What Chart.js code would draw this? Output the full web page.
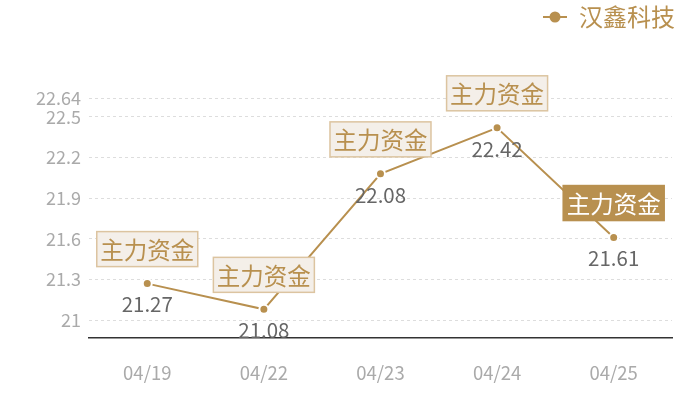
<!DOCTYPE html>
<html>
<head>
<meta charset="utf-8">
<script src="https://cdn.jsdelivr.net/npm/chart.js@4.4.1/dist/chart.umd.min.js"></script>
<style>
    html, body { margin: 0; padding: 0; background: #fff; }
    #wrap { width: 700px; height: 400px; }
</style>
</head>
<body>
<div id="wrap"><canvas id="priceChart" width="700" height="400"></canvas></div>
<script>
// chart data
const dates = ['04/19', '04/22', '04/23', '04/24', '04/25'];
const prices = [21.27, 21.08, 22.08, 22.42, 21.61];
const markLabels = ['主力资金', '主力资金', '主力资金', '主力资金', '主力资金'];
const yTicks = [21, 21.3, 21.6, 21.9, 22.2, 22.5, 22.64];
const seriesName = '汉鑫科技';

const GOLD = '#b8904f';
const FONT = '"Noto Sans CJK SC", "Noto Sans", sans-serif';

// legend marker: short line with a dot
function makeMarker() {
    const c = document.createElement('canvas');
    c.width = 24;
    c.height = 12;
    const g = c.getContext('2d');
    g.strokeStyle = GOLD;
    g.lineWidth = 2;
    g.beginPath();
    g.moveTo(0, 6);
    g.lineTo(24, 6);
    g.stroke();
    g.fillStyle = GOLD;
    g.beginPath();
    g.arc(12, 6, 5.5, 0, Math.PI * 2);
    g.fill();
    return c;
}
const marker = makeMarker();

// push the plot down below the legend, and let the legend sit a bit further right
const legendGap = {
    id: 'legendGap',
    beforeInit(chart) {
        const fit = chart.legend.fit;
        chart.legend.fit = function() {
            fit.bind(chart.legend)();
            this.height += 58;
        };
    },
    afterLayout(chart) {
        chart.legend.left += 9;
        chart.legend.right += 9;
        chart.legend.top -= 1;
        chart.legend.bottom -= 1;
    }
};

// boxes above points and values below
const pointNotes = {
    id: 'pointNotes',
    afterDatasetsDraw(chart) {
        const ctx = chart.ctx;
        const meta = chart.getDatasetMeta(0);
        const last = meta.data.length - 1;
        ctx.save();
        meta.data.forEach(function(pt, i) {
            const w = 101, h = 35;
            const x0 = pt.x - w / 2;
            const y0 = pt.y - 17 - h;
            const active = i === last;
            ctx.fillStyle = active ? GOLD : '#f4efe9';
            ctx.fillRect(x0, y0, w, h);
            ctx.strokeStyle = active ? GOLD : '#dcc4a0';
            ctx.lineWidth = 1.5;
            ctx.strokeRect(x0, y0, w, h);
            ctx.fillStyle = active ? '#ffffff' : GOLD;
            ctx.font = '23.5px ' + FONT;
            ctx.textAlign = 'center';
            ctx.textBaseline = 'middle';
            ctx.fillText(markLabels[i], pt.x, y0 + h / 2 + 1);

            ctx.fillStyle = '#666666';
            ctx.font = '20.5px ' + FONT;
            ctx.fillText(String(prices[i]), pt.x, pt.y + 21);
        });
        ctx.restore();
    }
};

new Chart(document.getElementById('priceChart'), {
    type: 'line',
    data: {
        labels: dates,
        datasets: [{
            label: seriesName,
            data: prices,
            borderColor: GOLD,
            backgroundColor: GOLD,
            borderWidth: 2,
            tension: 0,
            fill: false,
            pointRadius: 4.5,
            pointBorderColor: '#ffffff',
            pointBorderWidth: 2,
            pointBackgroundColor: GOLD,
            pointStyle: 'circle'
        }]
    },
    options: {
        responsive: false,
        animation: false,
        layout: {
            padding: { top: 0, right: 28, bottom: 0, left: 28 }
        },
        plugins: {
            legend: {
                position: 'top',
                align: 'end',
                labels: {
                    usePointStyle: true,
                    pointStyle: marker,
                    color: GOLD,
                    font: { family: FONT, size: 24 },
                    padding: 6
                }
            },
            tooltip: { enabled: false }
        },
        scales: {
            x: {
                offset: true,
                grid: { display: false },
                border: { color: '#333333', width: 1.5 },
                ticks: {
                    color: '#aaaaaa',
                    font: { family: FONT, size: 18.5 },
                    padding: 16
                }
            },
            y: {
                min: 20.87,
                max: 22.64,
                afterBuildTicks(axis) {
                    axis.ticks = yTicks.map(function(v) { return { value: v }; });
                },
                grid: {
                    color: '#dddddd',
                    drawTicks: false
                },
                border: { display: false, dash: [3, 3] },
                ticks: {
                    color: '#aaaaaa',
                    font: { family: FONT, size: 18 },
                    padding: 8,
                    callback: function(v) { return String(v); }
                }
            }
        }
    },
    plugins: [legendGap, pointNotes]
});
</script>
</body>
</html>
